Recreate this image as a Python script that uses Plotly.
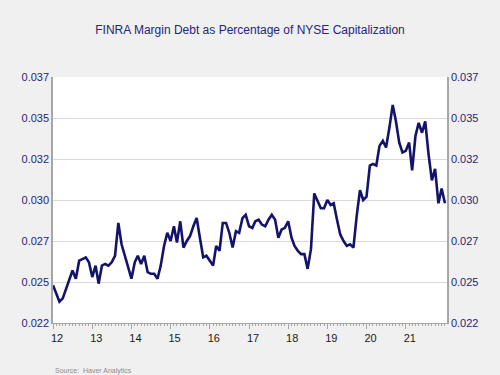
import plotly.graph_objects as go
import pandas as pd

start_month = "2012-01-01"
values = [
    0.0248, 0.0243, 0.0238, 0.0240, 0.0246, 0.0252, 0.0257, 0.0252, 0.0263, 0.0264, 0.0265, 0.0262,
    0.0253, 0.0260, 0.0249, 0.0260, 0.0261, 0.0260, 0.0262, 0.0266, 0.0286, 0.0273, 0.0266, 0.0258,
    0.0252, 0.0262, 0.0266, 0.0261, 0.0266, 0.0256, 0.0255, 0.0255, 0.0252, 0.0260, 0.0272, 0.0280,
    0.0275, 0.0284, 0.0274, 0.0287, 0.0271, 0.0275, 0.0278, 0.0284, 0.0289, 0.0277, 0.0265, 0.0266,
    0.0263, 0.0260, 0.0272, 0.0269, 0.0286, 0.0286, 0.0280, 0.0271, 0.0281, 0.0280, 0.0289, 0.0291,
    0.0284, 0.0283, 0.0287, 0.0288, 0.0285, 0.0284, 0.0288, 0.0291, 0.0288, 0.0277, 0.0282, 0.0283,
    0.0287, 0.0277, 0.0272, 0.0269, 0.0267, 0.0267, 0.0258, 0.0270, 0.0304, 0.0300, 0.0295, 0.0295,
    0.0300, 0.0297, 0.0298, 0.0288, 0.0279, 0.0275, 0.0272, 0.0273, 0.0271, 0.0290, 0.0306, 0.0300,
    0.0302, 0.0321, 0.0322, 0.0321, 0.0333, 0.0336, 0.0332, 0.0344, 0.0358, 0.0348, 0.0335, 0.0329,
    0.0330, 0.0335, 0.0318, 0.0339, 0.0347, 0.0341, 0.0348, 0.0328, 0.0312, 0.0319, 0.0298, 0.0307,
    0.0298,
]
dates = pd.date_range(start_month, periods=len(values), freq="MS")

y_tick_values = [0.0225, 0.025, 0.0275, 0.030, 0.0325, 0.035, 0.0375]
y_tick_labels = ["0.022", "0.025", "0.027", "0.030", "0.032", "0.035", "0.037"]
x_tick_values = pd.date_range("2012-01-01", "2021-01-01", freq="YS")
x_tick_labels = [d.strftime("%y") for d in x_tick_values]

title_text = "FINRA Margin Debt as Percentage of NYSE Capitalization"
source_text = "Source:  Haver Analytics"

NAVY = "#13136b"
LABEL = "#25257a"
AXIS = "#a6a6a6"
GRID = "#d9d9d9"
FONT = "Liberation Sans, Arial, sans-serif"

fig = go.Figure()
fig.add_trace(go.Scatter(x=dates, y=values, mode="lines",
                         line=dict(color=NAVY, width=2.6), showlegend=False))
fig.add_trace(go.Scatter(x=dates, y=values, mode="lines", yaxis="y2",
                         line=dict(color="rgba(0,0,0,0)", width=0),
                         showlegend=False, hoverinfo="skip"))

fig.update_layout(
    width=500, height=375,
    paper_bgcolor="#f0f0f0", plot_bgcolor="#ffffff",
    margin=dict(l=53, r=53, t=77, b=52),
    title=dict(text=title_text, x=0.5, xanchor="center", y=1 - 30 / 375, yanchor="middle",
               font=dict(family=FONT, size=12, color="#25257a")),
    xaxis=dict(
        range=[pd.Timestamp("2012-01-01"), pd.Timestamp("2022-01-20")],
        tickvals=x_tick_values, ticktext=x_tick_labels,
        ticks="outside", ticklen=5, tickcolor=AXIS, tickwidth=1,
        ticklabelshift=4,
        minor=dict(dtick="M1", ticks="outside", ticklen=2, tickcolor=AXIS, showgrid=False),
        showgrid=False, showline=True, linecolor=AXIS, linewidth=1,
        tickfont=dict(family=FONT, size=11, color="#1a1a1a"),
        zeroline=False,
    ),
    yaxis=dict(
        range=[0.0225, 0.0375], tickvals=y_tick_values, ticktext=y_tick_labels,
        showgrid=True, gridcolor=GRID, gridwidth=1,
        showline=True, linecolor=AXIS, linewidth=1.5,
        ticks="", tickfont=dict(family=FONT, size=11, color=LABEL),
        zeroline=False,
    ),
    yaxis2=dict(
        range=[0.0225, 0.0375], tickvals=y_tick_values, ticktext=y_tick_labels,
        overlaying="y", side="right", showgrid=False,
        showline=True, linecolor=AXIS, linewidth=1.5,
        ticks="", tickfont=dict(family=FONT, size=11, color=LABEL),
        zeroline=False,
    ),
    annotations=[dict(text=source_text, xref="paper", yref="paper",
                      x=0.0, y=-(371 - 323) / 246, xanchor="left", yanchor="middle",
                      showarrow=False, font=dict(family=FONT, size=7, color="#8c8c8c"))],
)

fig.write_html("out.html",
               config={"displayModeBar": False},
               post_script="document.body.style.margin='0';document.body.style.overflow='hidden';")
